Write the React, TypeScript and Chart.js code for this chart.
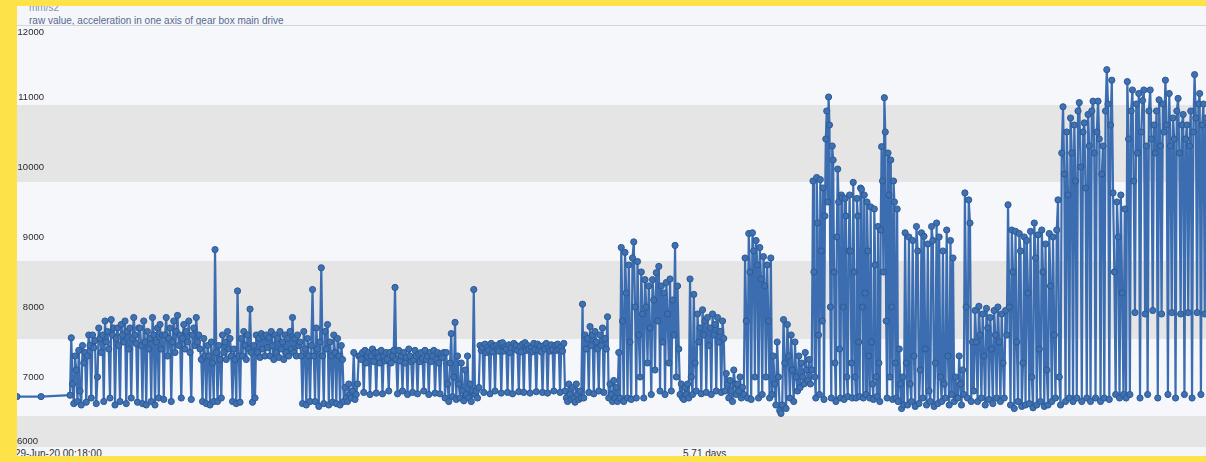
import { useEffect, useRef } from "react";
import { Chart, registerables } from "chart.js";

Chart.register(...registerables);

// Axis and band definitions (mm/s2)
const yTicks = [6000, 7000, 8000, 9000, 10000, 11000, 12000];
const bandEdges = [6000, 6437, 7549, 8662, 9789, 10887, 12000];
const spanHours = 137;

// Idle readings before the drive starts (hours, mm/s2)
const idleTimes = [0, 2.77];
const idleValues = [6720, 6720];

// Raw acceleration samples, one array per operating stretch
const run01 = [6740, 7560, 6900, 6620, 7300, 7100, 6650, 7380, 6800, 6600, 7450, 7200, 7350, 6640, 7300, 7600, 7450, 6700, 7600, 7420, 7520, 6620, 7000, 7700, 7550, 7350, 7600, 6650, 7800, 7500, 7650, 7400, 6700, 7820, 7600, 7700, 6600, 7550, 7700, 7450, 6650, 7750, 7600, 7500, 7800, 6620, 7650, 7400, 7700, 6700, 7550, 7850, 7600, 7480, 6640, 7700];
const run02 = [7700, 7450, 6620, 7800, 7500, 6600, 7650, 7400, 7550, 6650, 7850, 7600, 6600, 7500, 7700, 6700, 7750, 7400, 7600, 6680, 7600, 7850, 7300, 7550, 7700, 6650, 7500, 7800, 7350, 7650, 7880, 7450, 7600, 6700, 7550, 7750, 7400, 7650, 7500, 7800, 7350, 6680, 7600, 7700, 7450, 7850, 7500, 7600];
const run03 = [7400, 7250, 6650, 7550, 7300, 6620, 7450, 7300, 6600, 7500, 7200, 6650, 8820, 7350, 6650, 7450, 7250, 6700, 7600, 7350, 7500, 7250, 7650, 7400, 7550, 7300, 6650, 7400, 7250, 6620, 8230, 7300, 6640, 7550, 7300, 7650, 7450, 7250, 7600, 7400, 7970, 7350, 6640, 7450, 6700, 7600, 7350, 7550, 7280, 7620, 7400, 7580, 7300, 7600, 7420, 7560, 7300, 7650, 7450, 7250, 7600, 7350, 7550, 7280, 7650, 7400, 7500, 7250, 7600, 7350, 7550, 7300, 7650, 7400, 7850, 7350, 7550, 7300, 7600, 7450];
const run04 = [7500, 7300, 6620, 7650, 7400, 6600, 7550, 7300, 6650, 7450, 8250, 7300, 6650, 7700, 7400, 6580, 7500, 8560, 7300, 6620, 7650, 7400, 7750, 6600, 7500, 7300, 6640, 7600, 7350, 6620, 7550, 7300, 6600, 7450, 7250, 6650];
const run05 = [6850, 6700, 6650, 6900, 6750, 6700, 6800, 7350, 6680, 6750, 6900, 7300];
const run06 = [7300, 7250, 7350, 6780, 7380, 7200, 7300, 7350, 6750, 7300, 7400, 7220, 7350, 6770, 7350, 7280, 7200, 7380, 6760, 7300, 7230, 7350, 7250, 6800, 7350, 7200, 7300, 7380, 8280, 7250, 6760, 7380, 7230, 7300, 6800, 7350, 7200, 7280, 6750, 7400, 7300, 7220, 6780, 7250, 7380, 7300, 6760, 7330, 7220, 7350, 7260, 6800, 7380, 7250, 7300, 6750, 7350, 7220, 7300, 7380, 6770, 7250, 7350, 7200, 6760, 7330, 7280, 7350];
const run07 = [6700, 7350, 6900, 6650, 7200, 7620, 6720, 7000, 7780, 6680, 7300, 6900, 6700, 7200, 6800, 6660, 7100, 6750, 7300, 6700, 6900, 6650, 6800, 8250, 6750, 6800, 6700, 6850];
const run08 = [7450, 7380, 7420, 6780, 7470, 7350, 7420, 7380, 6760, 7480, 7360, 7440, 6800, 7450, 7400, 7370, 7480, 6770, 7490, 7370, 7430, 7400, 6780, 7460, 7350, 7420, 6760, 7480, 7400, 7450, 7380, 6790, 7440, 7360, 7470, 6780, 7490, 7380, 7450, 7400, 6770, 7420, 7360, 7480, 7390, 6790, 7470, 7380, 7440, 7360, 6780, 7450, 7400, 7480, 6770, 7420, 7370, 7460, 7390, 6800, 7450, 7380, 7470, 7400, 6780, 7430, 7370, 7480];
const run09 = [6800, 6700, 6650, 6900, 6750, 6680, 6850, 6700, 6640, 6900, 6750, 6680, 6800, 6700, 8040, 6700];
const run10 = [7600, 7400, 7550, 6780, 7720, 7450, 7600, 6760, 7650, 7500, 7400, 6800, 7600, 7450, 7700, 6780, 7550, 7400, 7860, 6700, 6900, 6750, 6650, 6950, 6700, 6850, 6650, 7350];
const run11 = [6700, 8850, 7800, 6650, 8780, 8200, 6700, 8600, 7500, 6680, 8700, 8930, 8000, 6700, 8650, 7600, 7000, 8500, 7900, 6700, 8390, 8000, 7200, 8300, 7700, 6750, 8390, 8100, 7100, 8490, 7800, 8580, 6800, 8300, 7500, 8200, 6750, 8350, 7900, 7200, 8400, 6800, 8100, 7600, 8880, 7000, 8300, 7400];
const run12 = [6750, 6900, 6700, 6680, 6850, 6750, 6900, 6700];
const run13 = [8400, 7000, 6750, 8180, 7200, 6800, 7900, 7500, 7700, 6760, 7960, 7600, 7800, 6780, 7850, 7450, 7700, 6750, 7900, 7600, 7750, 6800, 7850, 7500, 7650, 6780, 7800, 7550];
const run14 = [6800, 7050, 6900, 6700, 6950, 6800, 6650, 7100, 6900, 6750, 6900, 6800, 7000, 6700, 6850, 6750];
const run15 = [8700, 7800, 6700, 9050, 8500, 6680, 9060, 8800, 7000, 8950, 8600, 6700, 8850, 8400, 6750, 8720, 8300, 7000, 8600, 7800, 6700, 8700];
const run16 = [6750, 7300, 6900, 6600, 7500, 7000, 6520, 6480, 6600, 7820, 7200, 6550, 7750, 7300, 6700, 7600, 7100, 6650, 7500, 7000, 6800, 7300];
const run17 = [6850, 7200, 7000, 6900, 7350, 7100, 6950, 7250, 6900, 7100];
const run18 = [
  9800, 8500, 7000, 6700, 9850, 9200, 7600, 6750, 9820, 8800, 7800, 9700, 6680, 9300,
  10400, 10800, 9500, 11000, 10600, 8000, 6700, 10300, 10100, 8500, 7200, 6650, 9000,
  9970, 9500, 7400, 6700, 9600, 9560, 8000, 6680, 9550, 9300, 7000, 6720, 8800,
  9600, 8800, 7200, 6700, 9780, 8500, 7000, 6700, 9550, 9300, 7500, 6720, 9700,
  9680, 8000, 6700, 9600, 8200, 6750, 9500, 8800, 7300, 6700, 9430, 7500, 6900,
  6680, 9400, 8600, 7000, 6720, 9150, 7200, 6650, 9100, 10290, 9800, 8500,
  10990, 10500, 7800, 6700, 10200, 9600, 7000, 10100, 8000, 6680, 9800, 9500, 7200, 6700, 9400,
];
const run19 = [6650, 7400, 6900, 6550, 7000, 6600];
const run20 = [9060, 7200, 6600, 9000, 6900, 6650, 8950, 7300, 6580, 9150, 8800, 6620, 7100, 9060, 6700, 9010, 7400, 6600, 8900, 6800, 6650, 9150, 8950, 6580, 7200, 9200, 6620, 9000, 7000, 6650, 8800, 6900, 6700, 9100, 7300, 6600, 8950, 6750, 8700, 6650, 7000, 6700];
const run21 = [6700, 7300, 6900, 6600, 7100, 6750];
const run22 = [9630, 8000, 6700, 9530, 9200, 6650, 7500, 6800];
const run23 = [7950, 7500, 6650, 8010, 7600, 6700, 7900, 7300, 6600, 7980, 7700, 6680, 7850, 7400, 6620, 7950, 7600, 6700, 8000, 7500, 6650, 7900, 7200, 6700, 7950, 7600];
const run24 = [9460, 8000, 6600, 9100, 8500, 6550, 9080, 7500, 6650, 9050, 8800, 6580, 7200, 9000, 6600, 8950, 8200, 6620, 9080, 7000, 6560, 9200, 8700, 6600, 9030, 7400, 6650, 9100, 8500, 6580, 8900, 7100, 6600, 9050, 8300, 6650, 9000, 7600, 6700, 9100];
const run25 = [
  9530, 7000, 6600, 10200, 10860, 9900, 6650, 10500, 9600, 6700,
  10700, 10200, 6650, 10600, 9800, 6700, 10800, 10920, 10000, 6650,
  10500, 10630, 9700, 6700, 10750, 10300, 6650, 10800, 10940, 10200,
  6700, 10500, 10940, 10400, 6650, 9900, 10300, 6700, 10800, 11390,
  10900, 6680, 10600, 11240,
];
const run26 = [9630, 8500, 6750, 9500, 9000, 6700, 9600, 8200, 6750, 9400];
const run27 = [
  6700, 11220, 10400, 6750, 10800, 11100, 9800, 7920, 10900, 10200,
  11050, 6700, 10500, 10950, 11100, 7900, 10300, 6750, 10800, 11100,
  10400, 7950, 10600, 10200, 10800, 6700, 10960, 10300, 7900, 10900,
  10500, 11240, 10600, 6750, 11050, 10300, 7920, 10700, 10400, 6700,
  10800, 10980, 10200, 7900, 10600, 10750, 6750, 10400, 10600, 7920,
  10300, 10800, 6700, 10500, 11320, 10700, 7920, 10900, 11050, 6750,
  10600, 10900, 7900, 10700,
];

// Start hour of each stretch; a stretch ends where the next one begins
const runStarts = [6.11, 14.17, 21.09, 32.61, 37.8, 39.52, 49.32, 53.35, 63.15, 65.45, 69.48, 76.4, 77.55, 81.58, 83.89, 87.0, 90.23, 91.72, 101.52, 102.33, 108.43, 109.22, 110.39, 114.19, 119.95, 126.29, 127.79, spanHours];
const runs = [run01, run02, run03, run04, run05, run06, run07, run08, run09, run10, run11, run12, run13, run14, run15, run16, run17, run18, run19, run20, run21, run22, run23, run24, run25, run26, run27];

function buildPoints() {
  const pts: { x: number; y: number }[] = idleTimes.map((t, i) => ({ x: t, y: idleValues[i] }));
  runs.forEach((vals, k) => {
    const t0 = runStarts[k];
    const t1 = runStarts[k + 1];
    const last = k === runs.length - 1;
    const step = (t1 - t0) / (last ? vals.length - 1 : vals.length);
    vals.forEach((v, i) => pts.push({ x: t0 + i * step, y: v }));
  });
  return pts;
}

const bandsPlugin = {
  id: "bands",
  beforeDatasetsDraw(chart: any) {
    const { ctx, chartArea: a, scales } = chart;
    const y = scales.y;
    ctx.save();
    // light base, then the grey bands on top of it
    ctx.fillStyle = "#f6f7fb";
    ctx.fillRect(a.left, a.top, a.right - a.left, a.bottom - a.top);
    ctx.fillStyle = "#e5e5e6";
    for (let i = 0; i < bandEdges.length - 1; i += 2) {
      const top = Math.round(y.getPixelForValue(bandEdges[i + 1]));
      const bottom = Math.round(y.getPixelForValue(bandEdges[i]));
      ctx.fillRect(a.left, top, a.right - a.left, bottom - top);
    }
    ctx.font = "9.5px 'Liberation Sans', Arial, sans-serif";
    ctx.fillStyle = "#2b2b2b";
    ctx.textBaseline = "middle";
    yTicks.forEach((v, i) => {
      const py = Math.min(Math.max(y.getPixelForValue(v), a.top + 5), a.bottom - 6);
      // the bottom label sits flush against the frame edge
      if (i === 0) {
        ctx.textAlign = "left";
        ctx.fillText(String(v), a.left, py);
      } else {
        ctx.textAlign = "right";
        ctx.fillText(String(v), a.left + 27, py);
      }
    });
    ctx.restore();
  },
};

export default function App() {
  const canvasRef = useRef<HTMLCanvasElement | null>(null);

  useEffect(() => {
    const canvas = canvasRef.current;
    if (!canvas) return;
    const chart = new Chart(canvas, {
      type: "line",
      data: {
        datasets: [
          {
            data: buildPoints(),
            borderColor: "#3b6db0",
            borderWidth: 2.2,
            borderJoinStyle: "round",
            borderCapStyle: "round",
            pointRadius: 3.1,
            pointBackgroundColor: "#3e70b2",
            pointBorderColor: "#2d5b94",
            pointBorderWidth: 1,
            tension: 0,
          },
        ],
      },
      options: {
        animation: false,
        responsive: false,
        maintainAspectRatio: false,
        layout: { padding: 0, autoPadding: false },
        plugins: { legend: { display: false }, tooltip: { enabled: false } },
        scales: {
          x: { type: "linear", min: 0, max: spanHours, display: false },
          y: { type: "linear", min: 6000, max: 12000, display: false },
        },
      },
      plugins: [bandsPlugin],
    });
    return () => chart.destroy();
  }, []);

  const sans = "'Liberation Sans', Arial, sans-serif";

  return (
    <div
      style={{
        position: "fixed",
        left: 0,
        top: 0,
        width: 1206,
        height: 462,
        background: "#fde249",
        overflow: "hidden",
        fontFamily: sans,
      }}
    >
      <div
        style={{
          position: "absolute",
          left: 17,
          top: 6,
          width: 1189,
          height: 19,
          background: "#f5f6fa",
          borderBottom: "1px solid #d3d5dc",
          overflow: "hidden",
        }}
      >
        <div style={{ position: "absolute", left: 12, top: -4, fontSize: 10, lineHeight: "11px", color: "#8190b0", whiteSpace: "nowrap" }}>
          mm/s2
        </div>
        <div style={{ position: "absolute", left: 12, top: 9, fontSize: 10, lineHeight: "11px", color: "#56698f", whiteSpace: "nowrap" }}>
          raw value, acceleration in one axis of gear box main drive
        </div>
      </div>
      <div style={{ position: "absolute", left: 17, top: 26, width: 1189, height: 1, background: "#f6f7fb" }} />
      <canvas
        ref={canvasRef}
        width={1189}
        height={420}
        style={{ position: "absolute", left: 17, top: 27, width: 1189, height: 420, display: "block" }}
      />
      <div
        style={{
          position: "absolute",
          left: 17,
          top: 447,
          width: 1189,
          height: 9,
          background: "#f5f6fa",
          overflow: "hidden",
        }}
      >
        <div style={{ position: "absolute", left: -2, top: 1, fontSize: 10, lineHeight: "11px", color: "#333", whiteSpace: "nowrap" }}>
          29-Jun-20 00:18:00
        </div>
        <div style={{ position: "absolute", left: 666, top: 1, fontSize: 10, lineHeight: "11px", color: "#333", whiteSpace: "nowrap" }}>
          5.71 days
        </div>
      </div>
    </div>
  );
}
